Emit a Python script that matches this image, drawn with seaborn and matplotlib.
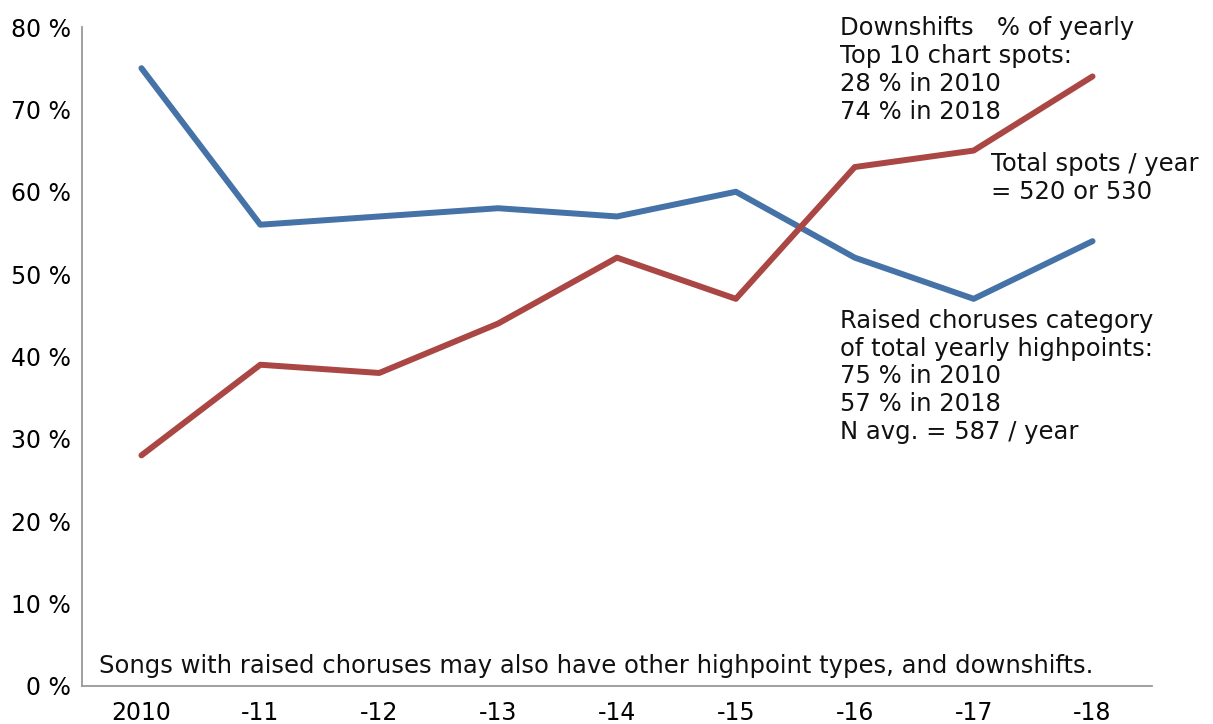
import matplotlib
matplotlib.use("Agg")
import matplotlib.pyplot as plt
import seaborn as sns
import pandas as pd

years = ["2010", "-11", "-12", "-13", "-14", "-15", "-16", "-17", "-18"]
raised_choruses = [75, 56, 57, 58, 57, 60, 52, 47, 54]
downshifts = [28, 39, 38, 44, 52, 47, 63, 65, 74]
y_ticks = [0, 10, 20, 30, 40, 50, 60, 70, 80]

sns.set_theme(style="white")
plt.rcParams["font.family"] = ["DejaVu Sans"]

df = pd.DataFrame({
    "pos": list(range(len(years))) * 2,
    "value": raised_choruses + downshifts,
    "series": ["Raised choruses"] * len(years) + ["Downshifts"] * len(years),
})

fig = plt.figure(figsize=(12.13, 7.24), dpi=100)
ax = fig.add_axes([0.0676, 0.0525, 0.8821, 0.9102])

sns.lineplot(data=df, x="pos", y="value", hue="series",
             palette={"Raised choruses": "#4572A7", "Downshifts": "#AA4643"},
             linewidth=4.3, legend=False, ax=ax, solid_capstyle="round")

ax.set_xlim(-0.5, len(years) - 0.5)
ax.set_ylim(0, 80)
ax.set_xticks(range(len(years)))
ax.set_xticklabels(years)
ax.set_yticks(y_ticks)
ax.set_yticklabels([f"{v} %" for v in y_ticks])
ax.set_xlabel("")
ax.set_ylabel("")
ax.tick_params(axis="both", length=0, labelsize=17, colors="#000000")
ax.tick_params(axis="x", pad=11)
ax.tick_params(axis="y", pad=8)

for side in ("top", "right"):
    ax.spines[side].set_visible(False)
for side in ("left", "bottom"):
    ax.spines[side].set_color("#999999")
    ax.spines[side].set_linewidth(1.3)

txt = dict(fontsize=17.5, color="#111111", va="top", ha="left",
           linespacing=1.2, clip_on=False)
ax.text(5.878, 81.3, "Downshifts   % of yearly\nTop 10 chart spots:\n28 % in 2010\n74 % in 2018", **txt)
ax.text(7.147, 64.8, "Total spots / year\n= 520 or 530", **txt)
ax.text(5.878, 45.8, "Raised choruses category\nof total yearly highpoints:\n75 % in 2010\n57 % in 2018\nN avg. = 587 / year", **txt)
ax.text(-0.36, 3.85, "Songs with raised choruses may also have other highpoint types, and downshifts.", **txt)

fig.savefig("out.png", dpi=100, facecolor="white")
